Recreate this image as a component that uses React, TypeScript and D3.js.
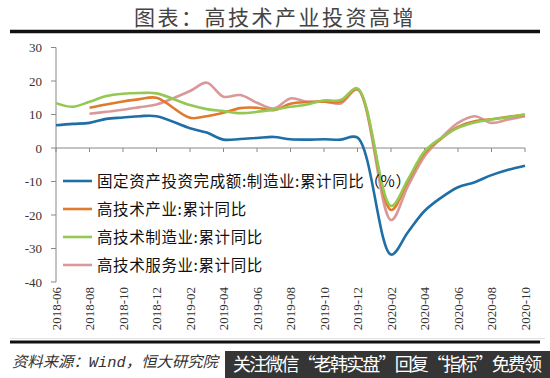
import React from "react";
import * as d3 from "d3";

const months = [
  "2018-06","2018-07","2018-08","2018-09","2018-10","2018-11","2018-12","2019-01",
  "2019-02","2019-03","2019-04","2019-05","2019-06","2019-07","2019-08","2019-09",
  "2019-10","2019-11","2019-12","2020-01","2020-02","2020-03","2020-04","2020-05",
  "2020-06","2020-07","2020-08","2020-09","2020-10",
];
const tickLabels = months.filter((_, i) => i % 2 === 0);
const yTicks = [30, 20, 10, 0, -10, -20, -30, -40];

const fai = [6.8, 7.2, 7.5, 8.7, 9.1, 9.5, 9.5, null, 5.9, 4.6, 2.5, 2.7, 3.0, 3.3, 2.6, 2.5, 2.6, 2.5, 3.1, null, -31.8, -25.2, -18.8, -14.8, -11.7, -10.2, -8.1, -6.5, -5.3];
const hiTech = [null, null, 12.0, 13.0, 13.9, 14.6, 15.0, null, 9.0, 9.5, 10.5, 11.9, 12.0, 11.3, 13.2, 13.7, 13.8, 13.8, 17.5, null, -18.5, -10.0, -1.5, 2.8, 6.3, 8.0, 8.6, 9.3, 9.9];
const hiTechMfg = [13.4, 12.3, 13.8, 15.5, 16.2, 16.4, 16.3, null, 12.8, 11.6, 11.0, 10.4, 10.8, 11.5, 12.3, 13.0, 14.2, 14.3, 17.8, null, -17.3, -9.5, -1.0, 3.0, 6.0, 7.6, 8.5, 9.2, 10.0];
const hiTechSvc = [null, null, 10.2, 10.8, 11.4, 12.2, 13.0, null, 17.0, 19.5, 15.3, 15.8, 13.5, 11.8, 14.8, 13.8, 14.0, 13.3, 17.5, null, -21.5, -11.5, -2.5, 3.0, 7.5, 9.5, 7.5, 8.5, 9.5];

const seriesNames = [
  "固定资产投资完成额:制造业:累计同比（%）",
  "高技术产业:累计同比",
  "高技术制造业:累计同比",
  "高技术服务业:累计同比",
];
const seriesData = [fai, hiTech, hiTechMfg, hiTechSvc];
const seriesColors = ["#1f6fa6", "#e07a2c", "#94c855", "#d9999a"];

export default function App() {
  const W = 550, H = 378;
  const x = d3.scaleLinear().domain([0, months.length - 1]).range([56, 525]);
  const y = d3.scaleLinear().domain([-40, 30]).range([282, 47.5]);
  const line = d3
    .line<[number, number]>()
    .x((d) => x(d[0]))
    .y((d) => y(d[1]))
    .curve(d3.curveCatmullRom.alpha(0.5));

  const drawOrder = [0, 3, 1, 2];
  const serif = "Liberation Serif, serif";
  const cjk = "Noto Sans CJK SC, sans-serif";

  return (
    <svg width={W} height={H} style={{ position: "absolute", left: 0, top: 0, background: "#fff" }}>
      <rect width={W} height={H} fill="#fff" />
      <text x={275} y={25} textAnchor="middle" fontFamily={cjk} fontSize={21} fill="#444" letterSpacing={2.5}>
        图表：高技术产业投资高增
      </text>
      <line x1={10} x2={540} y1={31.5} y2={31.5} stroke="#111" strokeWidth={3.5} />

      {/* y axis */}
      <line x1={x(0)} x2={x(0)} y1={y(30)} y2={y(-40)} stroke="#888" strokeWidth={1} />
      {yTicks.map((t) => (
        <g key={t}>
          <line x1={x(0) - 5} x2={x(0)} y1={y(t)} y2={y(t)} stroke="#888" />
          <text x={42} y={y(t) + 4.5} textAnchor="end" fontFamily={serif} fontSize={13} fill="#333">
            {t}
          </text>
        </g>
      ))}

      {/* x axis at zero */}
      <line x1={x(0)} x2={x(months.length - 1)} y1={y(0)} y2={y(0)} stroke="#888" />
      {tickLabels.map((lab, k) => {
        const xi = x(k * 2);
        return (
          <g key={lab}>
            <line x1={xi} x2={xi} y1={y(0)} y2={y(0) + 4} stroke="#888" />
            <text
              transform={`translate(${xi + 4.5},287) rotate(-90)`}
              textAnchor="end"
              fontFamily={serif}
              fontSize={13}
              fill="#333"
            >
              {lab}
            </text>
          </g>
        );
      })}

      {/* series */}
      {drawOrder.map((s) => {
        const pts = seriesData[s]
          .map((v, i) => [i, v] as [number, number | null])
          .filter((d) => d[1] !== null) as [number, number][];
        return (
          <path key={s} d={line(pts) || ""} fill="none" stroke={seriesColors[s]} strokeWidth={2.6} strokeLinejoin="round" />
        );
      })}

      {/* legend */}
      {seriesNames.map((name, s) => {
        const ly = 181 + s * 28;
        return (
          <g key={name}>
            <line x1={63} x2={92} y1={ly} y2={ly} stroke={seriesColors[s]} strokeWidth={2.6} />
            <text x={97} y={ly + 5.5} fontFamily={cjk} fontSize={15.5} fill="#111" letterSpacing={0.6}>
              {name}
            </text>
          </g>
        );
      })}

      <line x1={10} x2={545} y1={338.5} y2={338.5} stroke="#e2e2e2" strokeWidth={1} />
      <line x1={10} x2={540} y1={342} y2={342} stroke="#111" strokeWidth={3} />

      <text x={12} y={367} fontFamily={`Liberation Mono, ${cjk}`} fontStyle="italic" fontSize={15} fill="#333" textLength={206} lengthAdjust="spacingAndGlyphs">
        资料来源：Wind，恒大研究院
      </text>
      <rect x={225} y={351} width={325} height={27} fill="#353535" />
      <text x={233} y={371} fontFamily={cjk} fontSize={18} fill="#fff" textLength={309} lengthAdjust="spacing">
        关注微信“老韩实盘”回复“指标”免费领
      </text>
    </svg>
  );
}
